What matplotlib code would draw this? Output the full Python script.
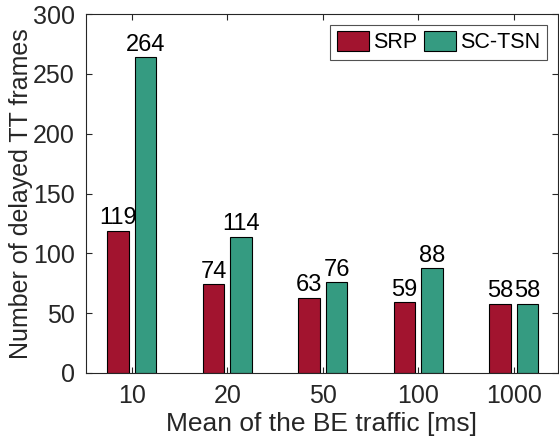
import numpy as np
import matplotlib
matplotlib.use('Agg')
import matplotlib.pyplot as plt

# data
categories = ['10', '20', '50', '100', '1000']
srp = [119, 74, 63, 59, 58]
sctsn = [264, 114, 76, 88, 58]

plt.rcParams['font.family'] = ['Liberation Sans', 'DejaVu Sans']

fig = plt.figure(figsize=(5.59, 4.45), dpi=100)
ax = fig.add_axes([0.1538, 0.1618, 0.844, 0.8067])

x = np.arange(1, len(categories) + 1)
w = 0.225
off = 0.145
b1 = ax.bar(x - off, srp, w, color='#A2142F', edgecolor='black', linewidth=0.8, label='SRP')
b2 = ax.bar(x + off, sctsn, w, color='#359B81', edgecolor='black', linewidth=0.8, label='SC-TSN')

for bars in (b1, b2):
    for r in bars:
        ax.text(r.get_x() + r.get_width() / 2, r.get_height() + 1, f'{int(r.get_height())}',
                ha='center', va='bottom', fontsize=17, color='black')

ax.set_xlim(0.52, 5.46)
ax.set_ylim(0, 300)
ax.set_xticks(x)
ax.set_xticklabels(categories)
ax.set_yticks(range(0, 301, 50))
ax.tick_params(direction='in', top=True, right=True, labelsize=18, colors='#262626',
               length=4, width=0.8, pad=8)
for s in ax.spines.values():
    s.set_color('#262626')
    s.set_linewidth(0.8)

ax.set_xlabel('Mean of the BE traffic [ms]', fontsize=19, color='#262626', labelpad=3)
ax.set_ylabel('Number of delayed TT frames', fontsize=18, color='#262626', labelpad=0)

leg = ax.legend(loc='upper right', fontsize=15.5, frameon=True, fancybox=False,
                edgecolor='#262626', handlelength=1.5, handleheight=1.0,
                handletextpad=0.2, columnspacing=0.3, ncol=2, borderpad=0.3,
                borderaxespad=0.5)
leg.get_frame().set_linewidth(0.8)

fig.savefig('out.png', dpi=100)
